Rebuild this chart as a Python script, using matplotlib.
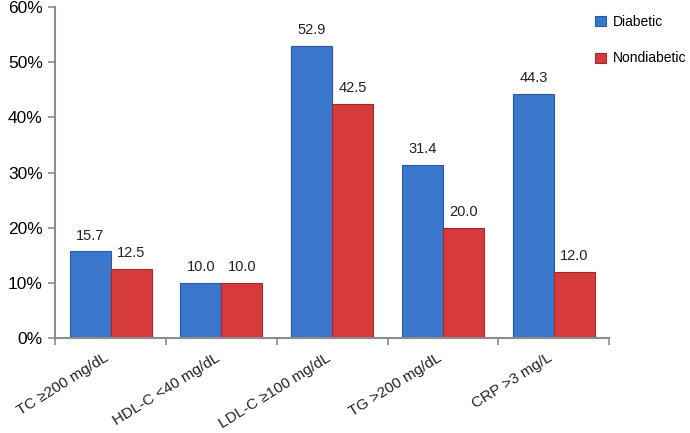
import numpy as np
import matplotlib.pyplot as plt
from matplotlib.ticker import FuncFormatter

plt.rcParams["font.family"] = ["Liberation Sans", "DejaVu Sans"]

# Données
categories = ["TC \u2265200 mg/dL", "HDL-C <40 mg/dL", "LDL-C \u2265100 mg/dL",
              "TG >200 mg/dL", "CRP >3 mg/L"]
diabetic = [15.7, 10.0, 52.9, 31.4, 44.3]
nondiabetic = [12.5, 10.0, 42.5, 20.0, 12.0]
series_names = ["Diabetic", "Nondiabetic"]

BLUE = "#3b77cc"
RED = "#d63a3a"
GREY = "#8c8c8c"

fig = plt.figure(figsize=(6.9, 4.33), dpi=100)
ax = fig.add_axes([0.08, 0.219, 0.803, 0.765])

x = np.arange(len(categories))
w = 0.37

b1 = ax.bar(x - w / 2, diabetic, w, color=BLUE, edgecolor="#2a5a9e",
            linewidth=0.8, label=series_names[0])
b2 = ax.bar(x + w / 2, nondiabetic, w, color=RED, edgecolor="#9e2a2a",
            linewidth=0.8, label=series_names[1])

# valeurs au-dessus des barres
for bars in (b1, b2):
    for rect in bars:
        h = rect.get_height()
        ax.text(rect.get_x() + rect.get_width() / 2, h + 1.6, f"{h:.1f}",
                ha="center", va="bottom", fontsize=10.5, color="#222222")

ax.set_xlim(-0.5, len(categories) - 0.5)
ax.set_ylim(0, 60)
ax.set_yticks(np.arange(0, 61, 10))
ax.yaxis.set_major_formatter(FuncFormatter(lambda v, p: f"{v:.0f}%"))
ax.tick_params(axis="y", labelsize=12.5, length=5, color=GREY, width=1.2, pad=4)

# ticks x aux frontières de catégories
ax.set_xticks(np.arange(-0.5, len(categories), 1.0))
ax.set_xticklabels([])
ax.tick_params(axis="x", length=5, color=GREY, width=1.2, direction="out")
for i, lab in enumerate(categories):
    ax.text(i - 0.06, -2.3, lab, rotation=32, ha="right", va="top",
            rotation_mode="anchor", fontsize=11, color="#222222")

for s in ("top", "right"):
    ax.spines[s].set_visible(False)
for s in ("left", "bottom"):
    ax.spines[s].set_color(GREY)
    ax.spines[s].set_linewidth(1.5)

leg = ax.legend(loc="upper left", bbox_to_anchor=(0.975, 0.975), frameon=False,
                fontsize=10, handlelength=0.75, handleheight=0.75,
                labelspacing=1.6, handletextpad=0.5, borderpad=0,
                borderaxespad=0)

fig.savefig("out.png", dpi=100)
